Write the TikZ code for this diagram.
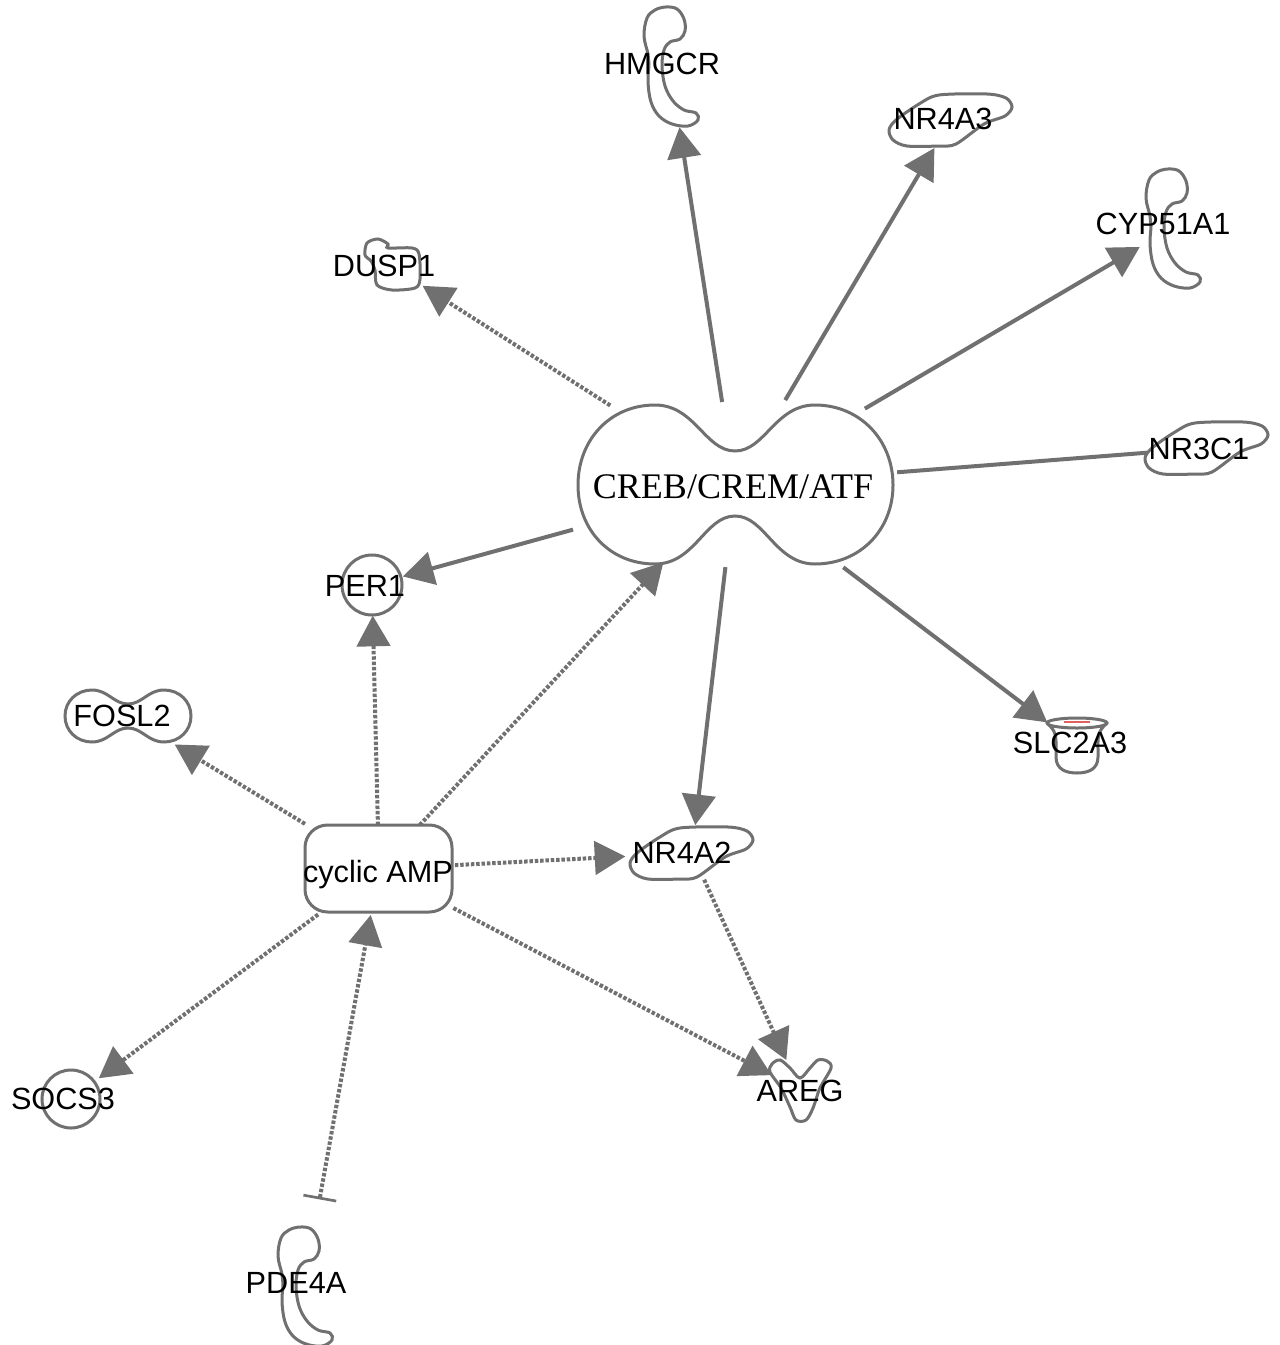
\documentclass[tikz,border=0pt]{standalone}
\usepackage{fontspec}
\setmainfont{Liberation Sans}
\newfontfamily\crebfont{Liberation Serif}
\usetikzlibrary{arrows.meta}
\definecolor{edgegray}{RGB}{112,112,112}
\definecolor{shapegray}{RGB}{112,112,112}
\definecolor{rimred}{RGB}{225,95,95}
\tikzset{
  enzymeshape/.pic={\path[shapeline] plot[smooth cycle, tension=0.6] coordinates {(-4,-59) (7,-57) (14,-47) (15,-35) (10,-27) (0,-24) (-6,-16) (-8,0) (-5,20) (3,35) (14,44) (26,47) (28,54) (18,60) (2,58) (-11,50) (-19,36) (-22,16) (-21,-2) (-22,-12) (-26,-30) (-23,-48) (-15,-56)};},
  trshape/.pic={\path[shapeline] plot[smooth cycle, tension=0.5] coordinates {(-62,10) (-55,0) (-32,-16) (-12,-25) (36,-26) (55,-22) (61,-13) (54,-4) (33,4) (5,24) (-12,26) (-44,26) (-58,20)};},
  gfshape/.pic={\path[shapeline] plot[smooth cycle, tension=0.55] coordinates {(-28,-26) (-20,-30) (-10,-22) (0,-12) (10,-22) (18,-30) (27,-29) (31,-22) (20,-2) (13,18) (6,30) (-4,30) (-10,17) (-19,-2) (-30,-18)};},
  phosshape/.pic={\path[shapeline] plot[smooth cycle, tension=0.5] coordinates {(-25,-10) (-23,-22) (-12,-26) (-2,-21) (-2,-17) (22,-17) (29,-11) (30,14) (25,23) (2,25) (-13,20) (-15,5) (-19,-4)};},
  transportshape/.pic={
    \path[shapeline] (-27,-19) .. controls (-20,-12) and (-21,-5) .. (-21,5) -- (-21,12) .. controls (-21,25) and (-10,28) .. (0,28) .. controls (10,28) and (21,25) .. (21,12) -- (21,5) .. controls (21,-5) and (20,-12) .. (27,-19) -- cycle;
    \path[shapeline] (0,-22) ellipse [x radius=30, y radius=5];
    \draw[rimred, line width=1.2pt] (-13,-23) -- (13,-23);}
}
\begin{document}
\begin{tikzpicture}[x=0.75pt,y=-0.75pt,
  edge/.style={draw=edgegray, line width=3pt},
  solidarrow/.style={edge, -{Triangle[length=23pt,width=25pt]}},
  dashedarrow/.style={edge, dash pattern=on 2.6pt off 1.4pt, -{Triangle[length=23pt,width=25pt]}},
  dashedbar/.style={edge, dash pattern=on 2.6pt off 1.4pt, {Bar[width=25pt,line width=2pt]}-{Triangle[length=23pt,width=25pt]}},
  shapeline/.style={draw=shapegray, line width=2.25pt, fill=white},
  lbl/.style={font=\fontsize{23}{26}\selectfont, text=black, inner sep=0pt, text depth=0pt},
  creblbl/.style={font=\crebfont\fontsize{27}{30}\selectfont, text=black, inner sep=0pt, text depth=0pt}]
\useasboundingbox (0,0) rectangle (1279,1345);
\fill[white] (0,0) rectangle (1279,1345);

% centres
\coordinate (creb) at (735,485);
\coordinate (hmgcr) at (670,66);
\coordinate (nr4a3) at (951,120);
\coordinate (cyp) at (1172,228);
\coordinate (nr3c1) at (1207,448);
\coordinate (per1) at (372,585);
\coordinate (nr4a2) at (692,853);
\coordinate (slc) at (1077,745);
\coordinate (dusp1) at (390,265);
\coordinate (camp) at (379,869);
\coordinate (fosl2) at (128,716);
\coordinate (areg) at (800,1090);
\coordinate (socs3) at (71,1099);
\coordinate (pde4a) at (304,1286);

% shapes
\path[shapeline] (735,485) ++(-157,0) .. controls +(0,-45) and +(-45,0) .. ++(77,-80)
  .. controls +(40,0) and +(-30,0) .. ++(80,46)
  .. controls +(30,0) and +(-40,0) .. ++(80,-46)
  .. controls +(45,0) and +(0,-45) .. ++(78,80)
  .. controls +(0,45) and +(45,0) .. ++(-78,79)
  .. controls +(-40,0) and +(30,0) .. ++(-80,-48)
  .. controls +(-30,0) and +(40,0) .. ++(-80,48)
  .. controls +(-45,0) and +(0,45) .. ++(-77,-79) -- cycle;
\path[shapeline] (128,716) ++(-63,0) .. controls +(0,-15) and +(-15,0) .. ++(27,-26)
  .. controls +(16,0) and +(-14,0) .. ++(36,14)
  .. controls +(14,0) and +(-16,0) .. ++(36,-14)
  .. controls +(15,0) and +(0,-15) .. ++(27,26)
  .. controls +(0,15) and +(15,0) .. ++(-27,26)
  .. controls +(-16,0) and +(14,0) .. ++(-36,-14)
  .. controls +(-14,0) and +(16,0) .. ++(-36,14)
  .. controls +(-15,0) and +(0,15) .. ++(-27,-26) -- cycle;
\path[shapeline, rounded corners=17pt] (305,825) rectangle (452,912);
\path[shapeline] (per1) circle [radius=30];
\path[shapeline] (socs3) circle [radius=29];
\pic at (hmgcr) {enzymeshape};
\pic at (cyp) {enzymeshape};
\pic at (pde4a) {enzymeshape};
\pic at (nr4a3) {trshape};
\pic at (nr3c1) {trshape};
\pic at (nr4a2) {trshape};
\pic at (areg) {gfshape};
\pic at (dusp1) {phosshape};
\pic at (slc) {transportshape};

% connectors
\draw[solidarrow, shorten <=63pt, shorten >=46.5pt] (creb) -- (hmgcr);
\draw[solidarrow, shorten <=74pt, shorten >=24.4pt] (creb) -- (nr4a3);
\draw[solidarrow, shorten <=113pt, shorten >=28pt] (creb) -- (cyp);
\draw[edge, shorten <=122pt, shorten >=45pt] (creb) -- (nr3c1);
\draw[solidarrow, shorten <=126pt, shorten >=24pt] (creb) -- (per1);
\draw[solidarrow, shorten <=62pt, shorten >=21pt] (creb) -- (nr4a2);
\draw[solidarrow, shorten <=102pt, shorten >=28pt] (creb) -- (slc);
\draw[dashedarrow, shorten <=111pt, shorten >=29pt] (creb) -- (dusp1);
\draw[dashedarrow, shorten <=33pt, shorten >=23pt] (camp) -- (per1);
\draw[dashedarrow, shorten <=45pt, shorten >=79pt] (camp) -- (creb);
\draw[dashedarrow, shorten <=65pt, shorten >=41pt] (camp) -- (fosl2);
\draw[dashedarrow, shorten <=57pt, shorten >=50pt] (camp) -- (nr4a2);
\draw[dashedarrow, shorten <=63pt, shorten >=24pt] (camp) -- (areg);
\draw[dashedarrow, shorten <=57pt, shorten >=26pt] (camp) -- (socs3);
\draw[dashedbar, shorten <=66pt, shorten >=35pt] (pde4a) -- (camp);
\draw[dashedarrow, shorten <=22pt, shorten >=24.7pt] (nr4a2) -- (areg);

% labels
\node[creblbl] (crebL) at (733,487) {CREB/CREM/ATF};
\node[lbl] (hmgcrL) at (662,64) {HMGCR};
\node[lbl] (nr4a3L) at (943,119) {NR4A3};
\node[lbl] (cypL) at (1163,224) {CYP51A1};
\node[lbl] (dusp1L) at (384,266) {DUSP1};
\node[lbl] (nr3c1L) at (1199,449) {NR3C1};
\node[lbl] (per1L) at (365,586) {PER1};
\node[lbl] (fosl2L) at (122,716) {FOSL2};
\node[lbl] (slcL) at (1070,743) {SLC2A3};
\node[lbl] (campL) at (378,871) {cyclic AMP};
\node[lbl] (nr4a2L) at (682,853) {NR4A2};
\node[lbl] (aregL) at (800,1091) {AREG};
\node[lbl] (socs3L) at (63,1099) {SOCS3};
\node[lbl] (pde4aL) at (296,1283) {PDE4A};
\end{tikzpicture}
\end{document}
